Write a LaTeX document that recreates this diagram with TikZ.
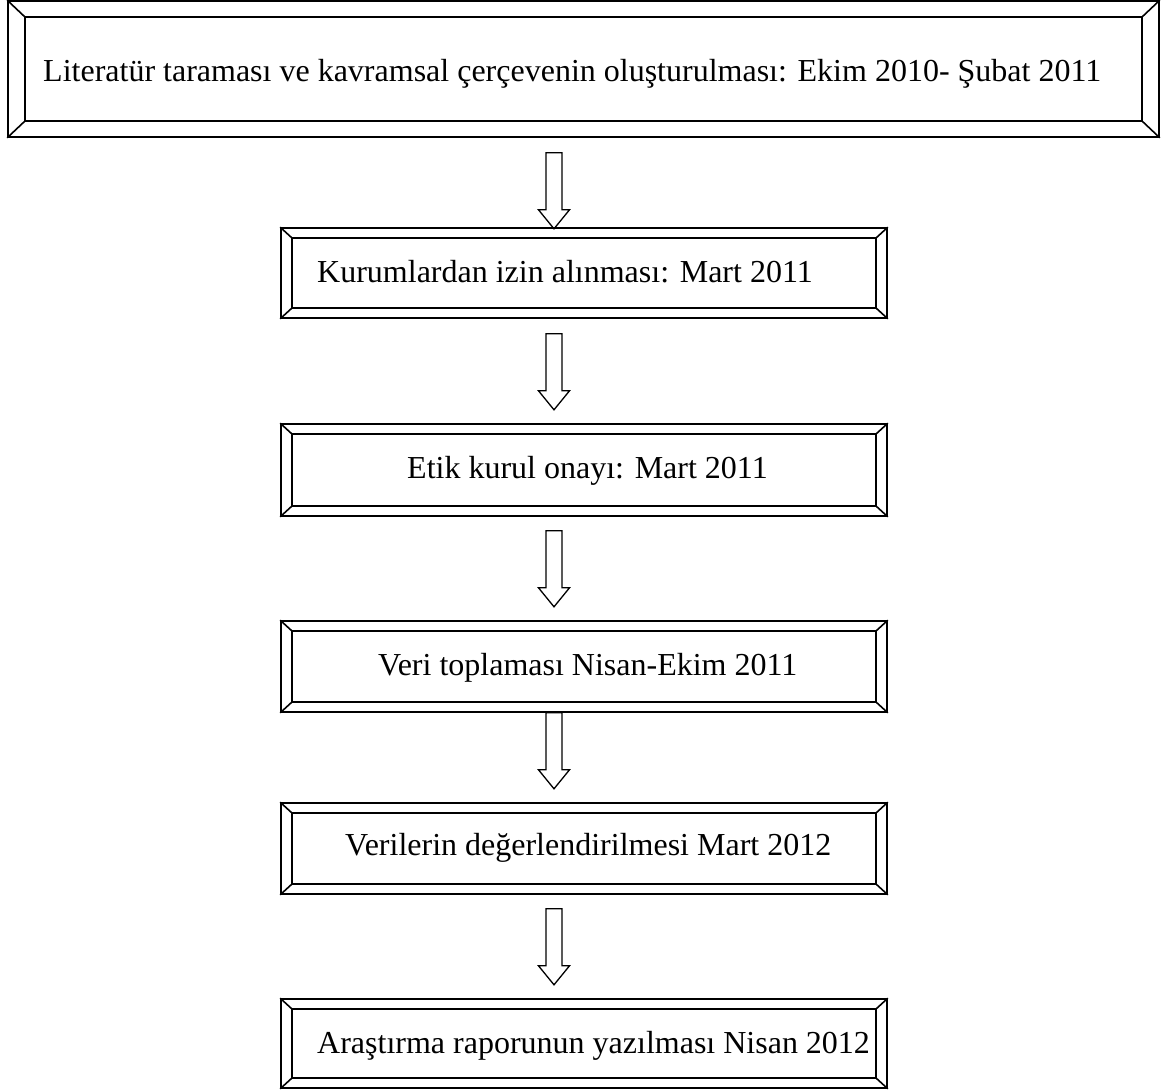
\documentclass[tikz,border=0pt]{standalone}
\usepackage{fontspec}
\setmainfont{Liberation Serif}
\begin{document}
\begin{tikzpicture}[x=1pt,y=1pt,
  boxline/.style={line width=1.6pt, line join=miter},
  outerbox/.style={boxline, draw, rectangle, inner sep=0pt},
  lbl/.style={font=\fontsize{32}{38}\selectfont, inner sep=0pt, anchor=base west},
  blockarrow/.pic={\draw[line width=1.3pt, line join=miter] (-8,0) -- (-8,-57) -- (-15.5,-57) -- (0,-76) -- (15.5,-57) -- (8,-57) -- (8,0) -- cycle;}
]
\useasboundingbox (0,0) rectangle (1163,-1090);

\newcommand{\bevel}[3]{%
  \draw[boxline] ([shift={(#2,-#3)}]#1.north west) rectangle ([shift={(-#2,#3)}]#1.south east);
  \draw[boxline] (#1.north west) -- ++(#2,-#3);
  \draw[boxline] (#1.north east) -- ++(-#2,-#3);
  \draw[boxline] (#1.south west) -- ++(#2,#3);
  \draw[boxline] (#1.south east) -- ++(-#2,#3);
}

\coordinate (ax) at (554,0);

\node[outerbox, minimum width=1151pt, minimum height=136pt] (b1) at (583.5,-69) {};
\bevel{b1}{18}{17}
\node[lbl] (t1) at (43,-81) {Literatür taraması ve kavramsal çerçevenin oluşturulması: Ekim 2010- Şubat 2011};

\node[outerbox, minimum width=606pt, minimum height=90pt] (b2) at (584,-273) {};
\bevel{b2}{12}{11}
\node[lbl] (t2) at (317,-282) {Kurumlardan izin alınması: Mart 2011};

\node[outerbox, minimum width=606pt, minimum height=92pt] (b3) at (584,-470) {};
\bevel{b3}{12}{11}
\node[lbl] (t3) at (407,-478) {Etik kurul onayı: Mart 2011};

\node[outerbox, minimum width=606pt, minimum height=91pt] (b4) at (584,-666.5) {};
\bevel{b4}{12}{11}
\node[lbl] (t4) at (378,-675) {Veri toplaması Nisan-Ekim 2011};

\node[outerbox, minimum width=606pt, minimum height=91pt] (b5) at (584,-848.5) {};
\bevel{b5}{12}{11}
\node[lbl] (t5) at (345,-855) {Verilerin değerlendirilmesi Mart 2012};

\node[outerbox, minimum width=606pt, minimum height=89pt] (b6) at (584,-1043.5) {};
\bevel{b6}{12}{11}
\node[lbl] (t6) at (317,-1053) {Araştırma raporunun yazılması Nisan 2012};

\path (b1.south -| ax) ++(0,-15) coordinate (s1);
\path (b2.south -| ax) ++(0,-15) coordinate (s2);
\path (b3.south -| ax) ++(0,-14) coordinate (s3);
\path (b4.south -| ax) coordinate (s4);
\path (b5.south -| ax) ++(0,-14) coordinate (s5);
\pic at (s1) {blockarrow};
\pic at (s2) {blockarrow};
\pic at (s3) {blockarrow};
\pic at (s4) {blockarrow};
\pic at (s5) {blockarrow};
\end{tikzpicture}
\end{document}
